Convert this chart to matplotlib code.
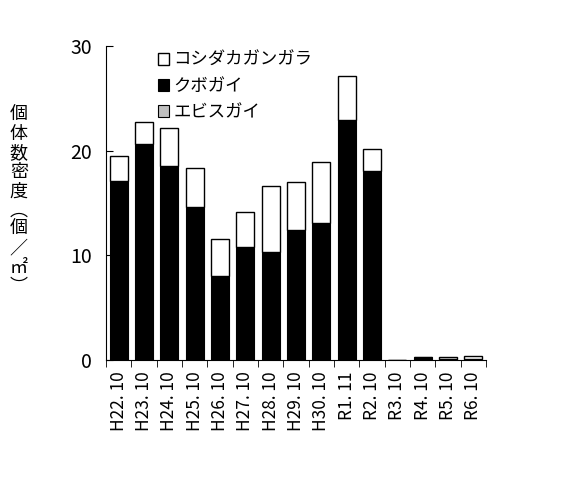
import matplotlib
matplotlib.use("Agg")
import matplotlib.pyplot as plt
import numpy as np

plt.rcParams['font.family'] = ['Noto Sans CJK JP', 'DejaVu Sans']

# 調査年月
labels = ["H22. 10", "H23. 10", "H24. 10", "H25. 10", "H26. 10", "H27. 10",
          "H28. 10", "H29. 10", "H30. 10", "R1. 11", "R2. 10", "R3. 10",
          "R4. 10", "R5. 10", "R6. 10"]

# 個体数密度 (個/m2)
ebisu = [0.0, 0.1, 0.0, 0.0, 0.0, 0.0, 0.0, 0.0, 0.0, 0.0, 0.0, 0.0, 0.0, 0.0, 0.0]
kubo = [17.1, 20.5, 18.5, 14.6, 8.0, 10.8, 10.3, 12.4, 13.1, 22.9, 18.1, 0.0, 0.25, 0.05, 0.05]
koshidaka = [2.4, 2.1, 3.7, 3.7, 3.6, 3.3, 6.3, 4.6, 5.8, 4.2, 2.1, 0.0, 0.0, 0.25, 0.3]

x = np.arange(len(labels))
ebisu = np.array(ebisu)
kubo = np.array(kubo)
koshidaka = np.array(koshidaka)

fig = plt.figure(figsize=(5.71, 4.78), dpi=100)
ax = fig.add_axes([0.1856, 0.2469, 0.6655, 0.657])

w = 0.71
ax.bar(x, ebisu, w, color="#c0c0c0", edgecolor="black", linewidth=0.8, label="エビスガイ")
ax.bar(x, kubo, w, bottom=ebisu, color="black", edgecolor="black", linewidth=0.8, label="クボガイ")
ax.bar(x, koshidaka, w, bottom=ebisu + kubo, color="white", edgecolor="black", linewidth=1.0,
       label="コシダカガンガラ")

ax.set_xlim(-0.5, len(labels) - 0.5)
ax.set_ylim(0, 30)
ax.set_yticks([0, 10, 20, 30])
ax.tick_params(axis="y", direction="in", length=5, labelsize=14, pad=10)
ax.set_xticks(x)
ax.set_xticklabels(labels, rotation=90, fontsize=12.5)
ax.tick_params(axis="x", which="major", length=0, pad=8)
ax.set_xticks(np.arange(-0.5, len(labels)), minor=True)
ax.tick_params(axis="x", which="minor", direction="out", length=5)

for s in ["top", "right"]:
    ax.spines[s].set_visible(False)

# 縦書きの軸ラベル
ylab = "\n".join(["個", "体", "数", "密", "度", "︵", "個", "／", "㎡", "︶"])
fig.text(0.033, 0.58, ylab, ha="center", va="center", fontsize=13, linespacing=1.08)

h, l = ax.get_legend_handles_labels()
ax.legend(h[::-1], l[::-1], loc="upper left", bbox_to_anchor=(0.118, 1.005), frameon=False,
          fontsize=12.5, handlelength=0.65, handleheight=0.65, handletextpad=0.25,
          labelspacing=0.45, borderaxespad=0)

fig.savefig("out.png", dpi=100)
